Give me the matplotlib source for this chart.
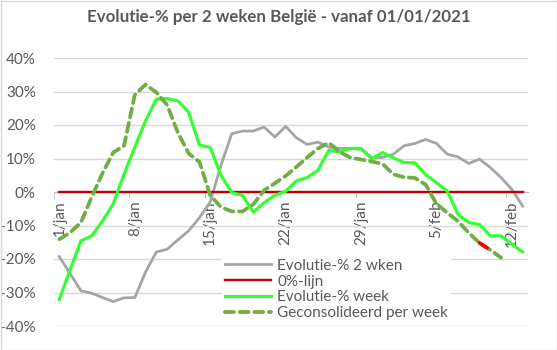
import numpy as np
import matplotlib
matplotlib.use('Agg')
import matplotlib.pyplot as plt
from matplotlib.patches import Rectangle

# dagen vanaf 1/jan (index 0) t/m 13/feb (index 43)
dagen = np.arange(44)
tick_labels = ['1/jan', '8/jan', '15/jan', '22/jan', '29/jan', '5/feb', '12/feb']
tick_pos = [0, 7, 14, 21, 28, 35, 42]

evol_2wken = [-19.3, -24.4, -29.5, -30.2, -31.5, -32.7, -31.6, -31.5, -23.9, -17.9,
              -17.1, -14.3, -11.6, -7.7, -3.0, 8.0, 17.4, 18.2, 18.2, 19.4,
              16.4, 19.6, 16.2, 14.2, 14.9, 13.4, 13.0, 13.0, 12.7, 10.3,
              10.3, 11.3, 13.8, 14.5, 15.7, 14.5, 11.3, 10.5, 8.5, 9.8,
              7.3, 4.3, 0.8, -4.2]
nul_lijn = [0] * 44
evol_week = [-32.0, -23.2, -14.6, -13.1, -8.7, -3.5, 5.3, 13.4, 21.3, 27.7,
             27.9, 27.2, 23.8, 14.0, 13.3, 5.0, -0.2, -1.0, -6.0, -3.2,
             -1.0, 0.2, 3.3, 4.3, 6.5, 12.4, 12.0, 13.0, 13.0, 10.0,
             11.8, 10.2, 8.8, 8.7, 5.2, 2.8, 0.3, -6.7, -9.1, -9.7,
             -13.1, -13.1, -15.6, -17.9]
geconsolideerd = [-14.1, -12.1, -9.1, -1.5, 5.6, 11.8, 13.8, 29.0, 32.1, 29.7,
                  26.0, 17.7, 11.5, 9.0, -1.0, -4.5, -5.8, -5.8, -3.7, 0.5,
                  2.6, 4.8, 7.5, 10.3, 13.0, 14.7, 12.0, 10.3, 9.7, 9.1,
                  8.4, 5.3, 4.4, 4.2, 2.2, -3.5, -6.2, -8.7, -12.2, -15.2,
                  -17.3, -19.6]
dagen_gecons = dagen[:len(geconsolideerd)]

plt.rcParams['font.family'] = ['Lato', 'DejaVu Sans']
tekst = '#595959'

fig = plt.figure(figsize=(5.57, 3.5), dpi=100)
ax = fig.add_axes([54/557, 1 - 326/350, 474/557, 268/350])

ax.plot(dagen, evol_2wken, color='#A5A5A5', lw=2.0, zorder=3, label='Evolutie-% 2 wken')
ax.plot(dagen, nul_lijn, color='#C00000', lw=1.7, zorder=3, label='0%-lijn')
ax.plot(dagen, evol_week, color='#33FF33', lw=2.3, zorder=3, label='Evolutie-% week')
ax.plot(dagen_gecons, geconsolideerd, color='#70AD47', lw=2.7, dashes=(2.4, 1.5),
        dash_capstyle='round', zorder=3, label='Geconsolideerd per week')
# rood gemarkeerd stukje
ax.plot(dagen_gecons[39:41], geconsolideerd[39:41], color='#FF0000', lw=2.7,
        dashes=(2.4, 1.5), dash_capstyle='round', zorder=3)

ax.set_xlim(-0.5, 43.5)
ax.set_ylim(-40, 40)
ax.set_yticks(np.arange(-40, 41, 10))
ax.set_yticklabels(['%d%%' % v for v in np.arange(-40, 41, 10)])
ax.yaxis.grid(True, color='#D9D9D9', lw=1)
ax.set_axisbelow(True)

ax.set_xticks(tick_pos)
ax.set_xticklabels(tick_labels)
ax.set_xticks(np.arange(-0.5, 43, 7), minor=True)
ax.tick_params(axis='x', which='major', length=0, pad=6, colors=tekst, labelsize=11,
               labelrotation=90)
ax.tick_params(axis='x', which='minor', length=4, color='#BFBFBF')
ax.tick_params(axis='y', length=0, pad=13, colors=tekst, labelsize=11)

for s in ['top', 'right', 'left']:
    ax.spines[s].set_visible(False)
ax.spines['bottom'].set_position(('data', 0))
ax.spines['bottom'].set_color('#BFBFBF')
ax.spines['bottom'].set_zorder(1)

fig.suptitle('Evolutie-% per 2 weken België - vanaf 01/01/2021', y=1 - 9/350, va='top',
             fontsize=12.2, fontweight='bold', color=tekst)

leg = ax.legend(loc='upper left', bbox_to_anchor=(214/557, 1 - 248/350),
                bbox_transform=fig.transFigure, frameon=True, fancybox=False,
                edgecolor='none', facecolor='white', framealpha=1,
                handlelength=3.0, handletextpad=0.45, labelspacing=0.12,
                borderpad=0.2, fontsize=11)
for t in leg.get_texts():
    t.set_color(tekst)

fig.patches.append(Rectangle((0.5/557, 0.5/350), 1 - 1/557, 1 - 1/350, transform=fig.transFigure,
                             fill=False, edgecolor='#D9D9D9', lw=1))

plt.savefig('out.png', dpi=100)
plt.close()
